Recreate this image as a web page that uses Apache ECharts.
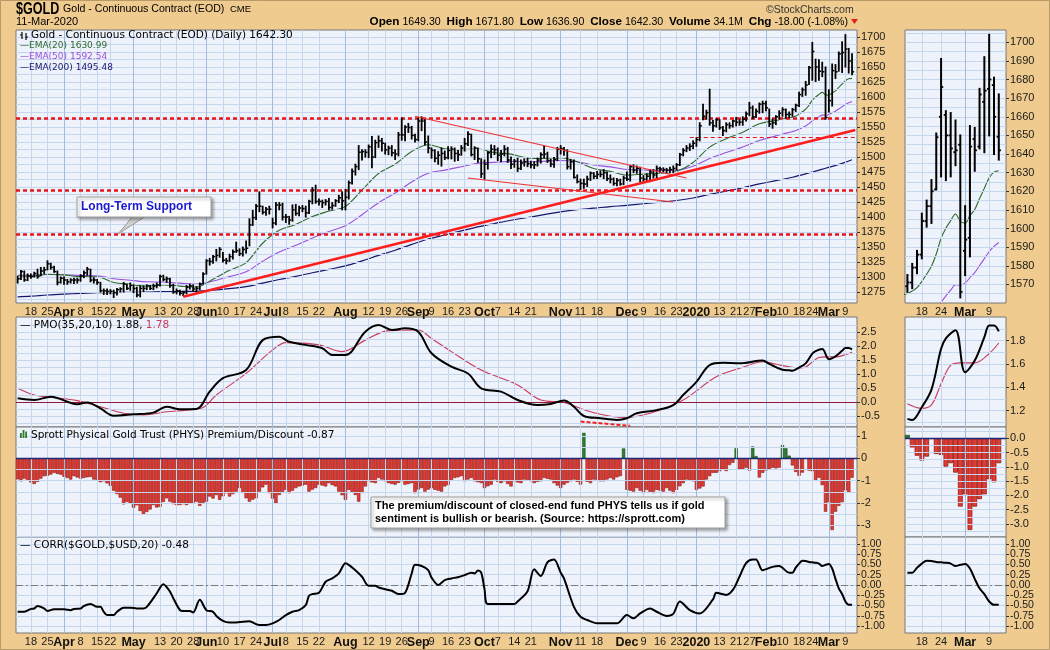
<!DOCTYPE html>
<html><head><meta charset="utf-8">
<script src="https://cdn.jsdelivr.net/npm/echarts@6/dist/echarts.min.js"></script>
<style>html,body{margin:0;padding:0;background:#EFCB8F;}#c{width:1050px;height:650px;}</style>
</head><body><div id="c"></div>
<script>
// ---------- calendar ----------
const holidays = ['2019-04-19','2019-05-27','2019-07-04','2019-09-02','2019-11-28','2019-12-25','2020-01-01','2020-01-20','2020-02-17'];
function tradingDays(){const out=[];let t=Date.UTC(2019,2,12);const end=Date.UTC(2020,2,11);
 while(t<=end){const d=new Date(t);const wd=d.getUTCDay();const s=d.toISOString().slice(0,10);
  if(wd!==0&&wd!==6&&holidays.indexOf(s)<0)out.push(s);t+=86400000;}return out;}
const dates = tradingDays();

// ---------- price data (daily) ----------
const closes = [1297,1309,1295,1302,1301,1306,1301,1310,1312,1322,1316,1309,1291,1298,
1295,1292,1295,1295,1295,1302,1307,1313,1295,1295,1291,1277,1277,1276,1276,1274,1279,1280,1288,1281,1286,
1281,1270,1281,1281,1285,1281,1285,1287,1301,1296,1297,1286,1275,1277,1273,1274,1283,1285,1280,1281,1288,1305,
1327,1326,1334,1336,1346,1328,1327,1334,1342,1344,1339,1346,1348,1387,1399,1418,1418,1408,1413,1413,
1390,1420,1420,1400,1400,1395,1412,1406,1415,1414,1407,1426,1445,1426,1426,1424,1426,1416,1419,1427,1432,1427,
1433,1457,1476,1484,1508,1509,1508,1517,1500,1524,1527,1523,1512,1515,1507,1505,1537,1537,1550,1549,1536,1529,
1560,1560,1525,1515,1511,1498,1503,1506,1499,1511,1513,1506,1504,1515,1522,1538,1504,1515,1497,1472,
1488,1507,1513,1512,1503,1505,1513,1495,1488,1493,1481,1490,1492,1489,1487,1487,1495,1504,1505,1494,1488,1496,1513,
1514,1511,1484,1492,1466,1459,1456,1455,1463,1473,1468,1471,1471,1474,1464,1463,1456,1461,1455,1465,
1463,1484,1478,1481,1465,1463,1468,1475,1470,1481,1480,1479,1478,1479,1481,1487,1504,1511,1515,1518,1523,
1529,1552,1568,1574,1557,1552,1562,1549,1544,1554,1552,1560,1558,1558,1563,1572,1582,1567,1576,1588,1589,
1582,1555,1557,1567,1573,1579,1571,1571,1579,1586,1604,1612,1620,1649,1676,1650,1643,1642,1566,1594,1644,1642,1672,1674,1680,1660,1642];
const highs = [1301,1311,1310,1305,1305,1308,1313,1316,1316,1327,1323,1318,1310,1300,
1300,1296,1297,1298,1298,1304,1310,1316,1313,1299,1296,1291,1280,1280,1279,1278,1281,1282,1291,1288,1290,
1287,1283,1285,1285,1287,1286,1288,1290,1303,1303,1300,1298,1288,1280,1278,1276,1286,1288,1287,1284,1290,1307,
1329,1331,1336,1346,1349,1341,1331,1338,1345,1358,1347,1350,1360,1397,1411,1421,1442,1418,1416,1418,
1398,1424,1424,1423,1404,1401,1420,1421,1418,1419,1418,1428,1449,1453,1430,1428,1429,1431,1424,1429,1436,1442,
1446,1460,1480,1488,1519,1512,1512,1520,1534,1528,1535,1531,1523,1518,1519,1512,1541,1565,1552,1556,1551,1538,
1565,1567,1562,1535,1515,1512,1509,1515,1510,1517,1517,1515,1511,1519,1531,1542,1538,1517,1515,1497,
1495,1509,1520,1519,1515,1511,1519,1516,1500,1496,1498,1495,1497,1498,1493,1492,1498,1507,1518,1508,1496,1499,1516,
1519,1516,1512,1496,1495,1470,1463,1463,1468,1475,1474,1476,1477,1479,1475,1470,1465,1464,1463,1468,
1475,1486,1487,1485,1483,1469,1472,1479,1479,1485,1483,1482,1481,1483,1485,1489,1506,1514,1519,1522,1527,
1532,1557,1588,1578,1613,1561,1564,1562,1551,1557,1557,1561,1566,1562,1567,1575,1591,1585,1580,1590,1593,
1593,1580,1563,1569,1577,1582,1580,1575,1581,1588,1608,1615,1626,1651,1691,1663,1662,1658,1650,1612,1655,1654,1675,1692,1704,1681,1672];
const lows = [1290,1296,1293,1294,1298,1300,1298,1302,1306,1312,1313,1308,1287,1290,
1288,1288,1290,1289,1290,1293,1299,1303,1292,1290,1288,1275,1271,1271,1272,1266,1270,1275,1275,1279,1278,
1274,1267,1267,1276,1279,1279,1279,1282,1285,1294,1291,1283,1273,1272,1270,1269,1272,1280,1276,1275,1279,1288,
1305,1320,1323,1327,1333,1325,1322,1326,1330,1341,1336,1335,1340,1352,1386,1396,1409,1405,1403,1405,
1382,1387,1412,1395,1391,1388,1393,1403,1402,1409,1400,1406,1422,1423,1420,1416,1420,1412,1413,1418,1424,1412,
1412,1430,1455,1470,1479,1495,1500,1499,1482,1499,1516,1510,1505,1504,1502,1496,1502,1528,1527,1541,1530,1525,
1527,1544,1520,1507,1498,1492,1488,1485,1496,1497,1497,1493,1494,1503,1510,1519,1502,1496,1491,1466,
1463,1480,1499,1504,1494,1492,1502,1491,1481,1483,1476,1479,1485,1484,1482,1481,1485,1490,1499,1491,1484,1483,1494,
1505,1503,1480,1480,1465,1457,1446,1448,1451,1461,1464,1464,1467,1464,1461,1457,1453,1452,1453,1454,
1461,1460,1474,1473,1459,1459,1461,1462,1465,1465,1474,1475,1474,1474,1474,1478,1486,1502,1509,1511,1514,
1518,1527,1562,1563,1553,1543,1550,1546,1536,1542,1548,1550,1552,1553,1553,1560,1569,1564,1566,1573,1574,
1577,1551,1548,1554,1563,1568,1565,1566,1568,1576,1584,1601,1603,1621,1628,1626,1628,1634,1563,1575,1585,1631,1643,1641,1650,1640,1637];
const recentStart = 233; // first bar of the right-hand zoom panel (2020-02-12)
const recentOpens = [1569,1571,1579,1586,1604,1612,1621,1660,1661,1650,1641,1645,1588,1595,1648,1644,1668,1675,1677,1649.3];

// ---------- moving averages [barIndex, value] ----------
const ema20Line = [[0,1302],[4,1301],[9,1304.5],[14,1303.5],[19,1300.6],[24,1300.4],[29,1290.8],[34,1287.7],[39,1284.7],[44,1286.8],[49,1284.9],[54,1283.3],[59,1296.2],[64,1311.1],[69,1324],[74,1356.3],[79,1377.8],[84,1387.7],[89,1400.8],[94,1409.9],[99,1417.8],[104,1445],[109,1472.5],[114,1488],[119,1509.2],[124,1520.5],[129,1513.6],[134,1512.2],[139,1513.3],[144,1507.3],[149,1504.8],[154,1498.6],[159,1497.6],[164,1498.9],[169,1492.2],[174,1480.8],[179,1476.1],[184,1469.8],[189,1471.5],[194,1472.9],[199,1476],[204,1490.9],[209,1516.5],[214,1530.4],[219,1541.2],[224,1555.3],[229,1561.1],[230,1562.2],[231,1563.8],[232,1564.5],[233,1565.1],[234,1566.4],[235,1568.2],[236,1571.6],[237,1575.4],[238,1579.7],[239,1586.3],[240,1594.8],[241,1600.1],[242,1604.2],[243,1607.8],[244,1603.8],[245,1602.9],[246,1606.9],[247,1610.2],[248,1616.1],[249,1621.6],[250,1627.2],[251,1630.3],[252,1631.0]];
const ema50Line = [[0,1303],[4,1303],[9,1304.3],[14,1303.9],[19,1302.5],[24,1302],[29,1297.2],[34,1294.6],[39,1292],[44,1291.6],[49,1289.8],[54,1288.3],[59,1293.3],[64,1300.7],[69,1308.6],[74,1326.2],[79,1341.6],[84,1352.8],[89,1365.1],[94,1375.7],[99,1385.5],[104,1403.8],[109,1423.9],[114,1439.9],[119,1458.4],[124,1472.8],[129,1478.2],[134,1483.9],[139,1489.5],[144,1491],[149,1492.8],[154,1492.1],[159,1492.8],[164,1494.3],[169,1492],[174,1486.7],[179,1483.5],[184,1479.3],[189,1478.3],[194,1477.7],[199,1478.3],[204,1484.7],[209,1497.5],[214,1507.4],[219,1516.6],[224,1527.5],[229,1535.2],[230,1536.7],[231,1538.4],[232,1539.7],[233,1540.9],[234,1542.4],[235,1544.1],[236,1546.4],[237,1549],[238,1551.8],[239,1555.6],[240,1560.3],[241,1563.8],[242,1566.9],[243,1569.8],[244,1569.7],[245,1570.7],[246,1573.6],[247,1576.3],[248,1580.1],[249,1583.8],[250,1587.6],[251,1590.4],[252,1592.5]];
const ema200Line = [[0,1267],[4,1268],[9,1270],[14,1271.5],[19,1272.7],[24,1274],[29,1274.1],[34,1274.5],[39,1274.8],[44,1275.6],[49,1276],[54,1276.2],[59,1278.1],[64,1280.8],[69,1283.9],[74,1289.9],[79,1295.9],[84,1301.2],[89,1307.1],[94,1312.8],[99,1318.5],[104,1326.8],[109,1336],[114,1344.6],[119,1354.3],[124,1363.3],[129,1370.1],[134,1376.9],[139,1383.6],[144,1389.2],[149,1394.6],[154,1399.2],[159,1403.9],[164,1408.6],[169,1412.2],[174,1414.7],[179,1417.4],[184,1419.4],[189,1422.1],[194,1424.7],[199,1427.5],[204,1431.7],[209,1437.7],[214,1443.2],[219,1448.8],[224,1455.1],[229,1460.7],[234,1466.3],[239,1473.5],[244,1481.3],[249,1489.3],[252,1495.5]];

// ---------- annotations ----------
const supportLevels = [1565, 1445, 1371];
const minorLevel = {from: 203, value: 1533};
const risingTrend = [[50,1267],[253,1545]];
const wedgeUpper = [[120,1568],[202,1465]];
const wedgeLower = [[136,1465],[198,1425]];
const pmoDivergence = [[170,-0.70],[185,-0.85]];

// ---------- PMO(35,20,10) ----------
const pmoLine = [[0,0.13],[5,0.07],[10,0.19],[18,-0.08],[21,-0.02],[25,-0.23],[29,-0.49],[35,-0.44],[41,-0.38],[45,-0.17],[49,-0.26],[54,-0.25],[58,0.37],[62,0.85],[69,1.14],[74,2.21],[79,2.33],[82,2.15],[87,2.04],[92,1.92],[95,1.68],[99,1.68],[105,2.51],[109,2.75],[113,2.57],[117,2.63],[121,2.51],[125,1.74],[131,1.26],[136,1.02],[140,0.49],[146,0.37],[151,0.07],[157,-0.11],[161,-0.07],[165,0.05],[168,-0.17],[171,-0.5],[176,-0.58],[181,-0.64],[184,-0.58],[187,-0.4],[193,-0.29],[198,-0.11],[201,0.25],[205,0.72],[209,1.32],[213,1.40],[218,1.38],[225,1.48],[227,1.36],[231,1.15],[233,1.13],[234,1.12],[236,1.23],[238,1.38],[240,1.73],[241,1.82],[243,1.89],[245,1.53],[247,1.63],[249,1.83],[250,1.93],[251,1.93],[252,1.88]];
const pmoSignal = [[0,0.49],[5,0.25],[10,0.17],[18,0.05],[25,-0.17],[32,-0.40],[38,-0.46],[45,-0.35],[51,-0.29],[56,-0.2],[60,0.25],[69,1.02],[77,1.86],[81,2.12],[91,2.04],[98,1.80],[105,2.21],[112,2.55],[121,2.57],[125,2.27],[131,1.80],[140,1.14],[151,0.61],[158,0.07],[165,-0.02],[173,-0.35],[183,-0.55],[191,-0.40],[201,0.07],[211,0.90],[219,1.24],[225,1.44],[229,1.35],[233,1.26],[236,1.22],[238,1.25],[240,1.43],[242,1.59],[244,1.61],[247,1.61],[250,1.69],[252,1.78]];

// ---------- PHYS premium/discount (daily) ----------
const physPremium = [-0.94,-1.03,-0.91,-1.00,-1.08,-1.15,-1.05,-0.91,-0.80,-0.78,-0.73,-0.65,-0.70,-0.73,-0.83,-0.88,-0.95,-0.80,-0.86,-0.91,
-0.88,-0.85,-0.83,-0.95,-1.00,-1.07,-1.03,-1.12,-1.23,-1.45,-1.60,-1.76,-2.06,-1.95,-2.02,-2.21,-2.10,-2.36,-2.51,-2.40,
-2.29,-2.09,-2.20,-2.17,-1.95,-1.79,-1.94,-2.05,-2.09,-2.09,-2.05,-2.09,-2.02,-2.00,-1.94,-2.13,-2.00,-1.94,-1.71,-1.80,
-1.64,-1.86,-1.70,-1.56,-1.71,-1.60,-1.49,-1.33,-1.55,-1.79,-1.94,-1.85,-1.79,-1.49,-1.30,-1.18,-1.56,-1.80,-2.02,-1.64,
-1.50,-1.41,-1.56,-1.45,-1.33,-1.26,-1.22,-1.18,-1.49,-1.40,-1.33,-1.18,-1.22,-1.26,-1.11,-1.20,-1.26,-1.49,-1.65,-1.86,
-1.41,-1.50,-1.64,-1.94,-1.55,-1.26,-1.03,-1.08,-1.11,-0.88,-0.95,-1.03,-1.11,-1.15,-1.18,-1.10,-1.03,-1.18,-1.15,-1.11,
-1.56,-1.40,-1.33,-1.49,-1.40,-1.33,-1.41,-1.45,-1.49,-1.26,-1.20,-1.00,-0.88,-0.85,-0.80,-1.03,-0.95,-0.88,-1.03,-1.07,
-1.11,-1.33,-1.25,-1.18,-0.95,-1.05,-1.11,-1.03,-1.15,-1.26,-1.03,-1.08,-1.11,-0.95,-1.00,-1.03,-1.11,-1.05,-1.03,-0.88,
-0.92,-0.95,-1.11,-1.22,-1.33,-1.18,-1.10,-1.03,-0.95,-1.05,-1.18,1.14,-1.05,-1.11,-0.95,-1.00,-1.03,-1.03,-0.95,-0.88,
-0.95,-0.85,-0.80,0.44,-1.41,-1.45,-1.49,-1.33,-1.45,-1.56,-1.41,-1.50,-1.56,-1.41,-1.45,-1.49,-1.33,-1.45,-1.56,-1.41,
-1.25,-1.11,-0.95,-1.00,-1.03,-1.41,-1.35,-1.26,-0.95,-0.80,-0.65,-0.65,-0.58,-0.50,-0.57,-0.30,-0.20,0.45,-0.50,-0.50,
-0.42,-0.55,0.53,0.10,-0.86,-0.65,-0.55,-0.50,-0.42,-0.45,-0.42,0.59,0.45,0.12,-0.32,-0.61,-0.78,-0.64,-0.02,-0.55,
-0.58,-0.99,-0.87,-1.20,-2.39,-1.96,-3.21,-2.39,-2.13,-1.96,-1.43,-1.54,-0.87];

// ---------- CORR($GOLD,$USD,20) ----------
const corrLine = [[0,-0.65],[2,-0.65],[4,-0.58],[5,-0.57],[6,-0.51],[8,-0.57],[9,-0.63],[11,-0.59],[14,-0.59],[16,-0.61],[17,-0.58],[19,-0.57],[20,-0.51],[22,-0.46],[24,-0.53],[25,-0.53],[26,-0.65],[27,-0.73],[29,-0.73],[30,-0.65],[32,-0.55],[34,-0.55],[36,-0.57],[38,-0.57],[39,-0.53],[41,-0.32],[42,-0.2],[44,0.02],[46,-0.16],[47,-0.32],[49,-0.61],[50,-0.63],[52,-0.63],[53,-0.67],[55,-0.36],[57,-0.61],[59,-0.65],[60,-0.75],[62,-0.87],[64,-0.91],[66,-0.91],[68,-0.89],[70,-0.88],[72,-0.95],[73,-0.97],[75,-0.97],[77,-0.93],[79,-0.85],[81,-0.73],[83,-0.65],[85,-0.61],[87,-0.49],[88,-0.26],[89,-0.22],[91,-0.19],[93,0.08],[95,0.16],[97,0.28],[99,0.53],[100,0.49],[102,0.36],[104,0.2],[106,-0.02],[108,-0.02],[109,-0.06],[112,-0.12],[113,-0.14],[115,-0.22],[117,-0.19],[119,0.28],[120,0.49],[122,0.46],[124,0.36],[125,0.18],[127,0.0],[129,0.12],[131,0.16],[133,0.19],[135,0.24],[137,0.30],[138,0.28],[139,0.35],[140,0.30],[141,-0.1],[142,-0.46],[150,-0.46],[151,-0.40],[154,-0.15],[156,0.38],[158,0.22],[160,0.55],[162,0.62],[164,0.30],[165,0.16],[168,-0.53],[170,-0.77],[172,-0.85],[175,-0.93],[181,-0.93],[184,-0.73],[186,-0.81],[188,-0.69],[191,-0.57],[193,-0.65],[196,-0.75],[198,-0.70],[200,-0.40],[203,-0.61],[206,-0.69],[210,-0.35],[211,-0.19],[214,-0.24],[216,-0.12],[218,0.2],[220,0.53],[222,0.62],[223,0.62],[225,0.36],[228,0.44],[230,0.46],[233,0.30],[234,0.30],[235,0.42],[236,0.52],[237,0.59],[238,0.58],[239,0.56],[240,0.55],[241,0.54],[242,0.52],[243,0.46],[244,0.49],[245,0.51],[246,0.40],[247,0.15],[248,-0.08],[249,-0.22],[250,-0.40],[251,-0.48],[252,-0.48]];

// ---------- tick labels ----------
const xTickLabels = [['2019-03-18','18'],['2019-03-25','25'],['2019-04-01','Apr'],['2019-04-08','8'],['2019-04-15','15'],['2019-04-22','22'],['2019-05-01','May'],['2019-05-13','13'],['2019-05-20','20'],['2019-05-28','28'],['2019-06-03','Jun'],['2019-06-10','10'],['2019-06-17','17'],['2019-06-24','24'],['2019-07-01','Jul'],['2019-07-08','8'],['2019-07-15','15'],['2019-07-22','22'],['2019-08-01','Aug'],['2019-08-12','12'],['2019-08-19','19'],['2019-08-26','26'],['2019-09-03','Sep'],['2019-09-09','9'],['2019-09-16','16'],['2019-09-23','23'],['2019-10-01','Oct'],['2019-10-07','7'],['2019-10-14','14'],['2019-10-21','21'],['2019-11-01','Nov'],['2019-11-11','11'],['2019-11-18','18'],['2019-12-02','Dec'],['2019-12-09','9'],['2019-12-16','16'],['2019-12-23','23'],['2020-01-02','2020'],['2020-01-13','13'],['2020-01-21','21'],['2020-01-27','27'],['2020-02-03','Feb'],['2020-02-10','10'],['2020-02-18','18'],['2020-02-24','24'],['2020-03-02','Mar'],['2020-03-09','9']];
const boldTicks = ['Apr','May','Jun','Jul','Aug','Sep','Oct','Nov','Dec','2020','Feb','Mar'];
const priceTicks = [1275,1300,1325,1350,1375,1400,1425,1450,1475,1500,1525,1550,1575,1600,1625,1650,1675,1700];
const priceTicksRecent = [1570,1580,1590,1600,1610,1620,1630,1640,1650,1660,1670,1680,1690,1700];
const pmoTicks = [-0.5,0,0.5,1,1.5,2,2.5];
const pmoTicksRecent = [1.2,1.4,1.6,1.8];
const physTicks = [-3,-2,-1,0,1];
const physTicksRecent = [-3,-2.5,-2,-1.5,-1,-0.5,0];
const corrTicks = [-1,-0.75,-0.5,-0.25,0,0.25,0.5,0.75,1];
const corrTicksEven = [-1,-0.5,0,0.5,1];
const corrTicksOdd = [-0.75,-0.25,0.25,0.75];
// horizontal grid-line levels (labels plus half steps)
const priceGrid = [1262.5,1275,1287.5,1300,1312.5,1325,1337.5,1350,1362.5,1375,1387.5,1400,1412.5,1425,1437.5,1450,1462.5,1475,1487.5,1500,1512.5,1525,1537.5,1550,1562.5,1575,1587.5,1600,1612.5,1625,1637.5,1650,1662.5,1675,1687.5,1700];
const priceGridRecent = [1565,1570,1575,1580,1585,1590,1595,1600,1605,1610,1615,1620,1625,1630,1635,1640,1645,1650,1655,1660,1665,1670,1675,1680,1685,1690,1695,1700,1705];
const pmoGrid = [-0.75,-0.5,-0.25,0,0.25,0.5,0.75,1,1.25,1.5,1.75,2,2.25,2.5,2.75];
const pmoGridRecent = [1.1,1.2,1.3,1.4,1.5,1.6,1.7,1.8,1.9];
const physGrid = [-3.5,-3,-2.5,-2,-1.5,-1,-0.5,0,0.5,1];
const physGridRecent = [-3.25,-3,-2.75,-2.5,-2.25,-2,-1.75,-1.5,-1.25,-1,-0.75,-0.5,-0.25,0,0.25];

// ================= build =================
const FONT = "'Liberation Sans', Arial, sans-serif";
const VFONT = "'DejaVu Sans', Verdana, sans-serif";
const leftCats = dates.concat(['']);
const rightCats = dates.slice(recentStart).concat(['']);
const labelMap = new Map(xTickLabels);
const GRID_C = '#C6D6EC', MONTH_C = '#9FBBDD';

const L = {x:16, w:841, x2:905, w2:101};
const rows = [{top:30,h:273},{top:317,h:110},{top:427,h:110},{top:537,h:96}];
const grids = [];
rows.forEach(r=>{
  grids.push({left:L.x, top:r.top, width:L.w, height:r.h, show:true, backgroundColor:'#EEF2FA', borderColor:'#777', borderWidth:1, containLabel:false});
  grids.push({left:L.x2, top:r.top, width:L.w2, height:r.h, show:true, backgroundColor:'#EEF2FA', borderColor:'#777', borderWidth:1, containLabel:false});
});

function xLabelCfg(show){
  return {show:show, interval:(i,v)=>labelMap.has(v), margin:3, fontSize:11, color:'#1a1a1a', fontFamily:FONT,
    formatter:v=>{const t=labelMap.get(v)||''; return boldTicks.indexOf(t)>=0?'{b|'+t+'}':t;},
    rich:{b:{fontWeight:'bold', fontSize:12.5, fontFamily:FONT, color:'#111'}}};
}
const xAxes = [];
for(let k=0;k<8;k++){
  const right = k%2===1;
  const showLbl = (k===0||k===1||k===6||k===7);
  xAxes.push({type:'category', gridIndex:k, data: right?rightCats:leftCats, boundaryGap:true,
    axisLine:{show:false}, axisTick:{show:false}, splitLine:{show:false}, axisLabel:xLabelCfg(showLbl)});
}
function yAx(k,min,max,ticks,fmt,compact){
  return {type:'value', gridIndex:k, min:min, max:max, position:'right', offset:0, scale:true,
    axisLine:{show:false}, splitLine:{show:false},
    axisTick:{show:true, customValues:ticks, length:3, lineStyle:{color:'#333'}},
    axisLabel:Object.assign({customValues:ticks, formatter:fmt, margin:4, fontSize:11, color:'#1a1a1a', fontFamily:FONT,
      showMinLabel:true, showMaxLabel:true, hideOverlap:false}, compact?{fontSize:10.5}:{})};
}
const corrFmt = v=>v.toFixed(2);
const yAxes = [
  yAx(0,1256.7,1711.7,priceTicks,v=>String(v)),
  yAx(1,1560,1706.6,priceTicksRecent,v=>String(v)),
  yAx(2,-0.893,3.036,pmoTicks,v=>v.toFixed(1)),
  yAx(3,1.06,2.003,pmoTicksRecent,v=>v.toFixed(1)),
  yAx(4,-3.52,1.40,physTicks,v=>String(v)),
  yAx(5,-3.455,0.396,physTicksRecent,v=>v.toFixed(1)),
  yAx(6,-1.165,1.165,corrTicksEven,corrFmt,true),
  yAx(7,-1.165,1.165,corrTicksEven,corrFmt,true),
  yAx(6,-1.165,1.165,corrTicksOdd,corrFmt,true),   // 8: in-between CORR labels (left)
  yAx(7,-1.165,1.165,corrTicksOdd,corrFmt,true)    // 9: in-between CORR labels (right)
];

// grid-line helper series (horizontal at grid levels, vertical at labelled dates)
function gridLines(k, levels, right){
  const cats = right?rightCats:leftCats;
  const d = [];
  levels.forEach(v=>d.push({yAxis:v, lineStyle:{color:GRID_C, width:1, type:'solid'}}));
  cats.forEach((c,i)=>{ if(labelMap.has(c)){ const t=labelMap.get(c); const isM=boldTicks.indexOf(t)>=0;
     d.push({xAxis:i, lineStyle:{color:isM?MONTH_C:GRID_C, width:1, type:'solid'}}); }});
  return {type:'line', xAxisIndex:k, yAxisIndex:k, data:[], z:1, silent:true, animation:false,
    markLine:{silent:true, symbol:['none','none'], label:{show:false}, animation:false, data:d}};
}
const series = [];
const levelSets = [priceGrid, priceGridRecent, pmoGrid, pmoGridRecent, physGrid, physGridRecent, corrTicks, corrTicks];
for(let k=0;k<8;k++) series.push(gridLines(k, levelSets[k], k%2===1));
// keep the extra CORR label axes bound to (empty) series
series.push({type:'line', xAxisIndex:6, yAxisIndex:8, data:[], silent:true});
series.push({type:'line', xAxisIndex:7, yAxisIndex:9, data:[], silent:true});

// ----- main price panel -----
const mainData = closes.map((c,i)=>[i, highs[i], lows[i], c]);
series.push({type:'custom', xAxisIndex:0, yAxisIndex:0, z:5, animation:false, encode:{x:0, y:[1,2,3]}, data:mainData,
  renderItem:(p,api)=>{const x=api.value(0);const ph=api.coord([x,api.value(1)]),pl=api.coord([x,api.value(2)]),pc=api.coord([x,api.value(3)]);
    const bw=api.size([1,0])[0];
    return {type:'group', children:[
      {type:'line', shape:{x1:ph[0],y1:ph[1]-0.5,x2:pl[0],y2:pl[1]+0.5}, style:{stroke:'#000',lineWidth:1.8}},
      {type:'line', shape:{x1:pc[0],y1:pc[1],x2:pc[0]+bw*0.65,y2:pc[1]}, style:{stroke:'#000',lineWidth:1.5}}]};}
});
function lineS(k, data, color, width, z, extra){
  return Object.assign({type:'line', xAxisIndex:k, yAxisIndex:k, data:data, showSymbol:false, symbol:'none', smooth:0.35,
    lineStyle:{color:color, width:width}, z:z||3, animation:false, silent:true}, extra||{});
}
series.push(lineS(0, ema200Line, '#16166E', 1.2, 3));
series.push(lineS(0, ema50Line, '#9A4FE0', 1.1, 3));
series.push(lineS(0, ema20Line, '#2E6B2E', 1.1, 3));
series.push(lineS(0, risingTrend, '#FF1E1E', 2.6, 6, {smooth:false}));
series.push(lineS(0, wedgeUpper, '#F03030', 1.1, 6, {smooth:false}));
series.push(lineS(0, wedgeLower, '#F03030', 1.1, 6, {smooth:false}));
series.push({type:'line', xAxisIndex:0, yAxisIndex:0, data:[], z:6, silent:true, animation:false,
  markLine:{silent:true, symbol:['none','none'], label:{show:false}, animation:false,
    data: supportLevels.map(v=>({yAxis:v, lineStyle:{color:'#E8141B', width:2.6, type:[4,3]}}))
      .concat([[{coord:[minorLevel.from, minorLevel.value], lineStyle:{color:'#E8141B', width:1, type:[4,3]}},{coord:[leftCats.length-1, minorLevel.value]}]])}});

// ----- recent price panel -----
const recentData = [];
for(let i=recentStart;i<closes.length;i++) recentData.push([i-recentStart, recentOpens[i-recentStart], highs[i], lows[i], closes[i]]);
series.push({type:'custom', xAxisIndex:1, yAxisIndex:1, z:5, animation:false, encode:{x:0, y:[1,2,3,4]}, data:recentData,
  renderItem:(p,api)=>{const x=api.value(0);const po=api.coord([x,api.value(1)]),ph=api.coord([x,api.value(2)]),pl=api.coord([x,api.value(3)]),pc=api.coord([x,api.value(4)]);
    const bw=api.size([1,0])[0];
    return {type:'group', children:[
      {type:'line', shape:{x1:ph[0],y1:ph[1]-1,x2:pl[0],y2:pl[1]+1}, style:{stroke:'#000',lineWidth:2}},
      {type:'line', shape:{x1:po[0]-bw*0.45,y1:po[1],x2:po[0],y2:po[1]}, style:{stroke:'#000',lineWidth:1.8}},
      {type:'line', shape:{x1:pc[0],y1:pc[1],x2:pc[0]+bw*0.45,y2:pc[1]}, style:{stroke:'#000',lineWidth:1.8}}]};}
});
const shiftR = arr => arr.filter(p=>p[0]>=recentStart-1).map(p=>[p[0]-recentStart, p[1]]);
series.push(lineS(1, shiftR(ema50Line), '#9A4FE0', 1.1, 3));
series.push(lineS(1, shiftR(ema20Line), '#2E6B2E', 1.1, 3));

// ----- PMO -----
series.push(lineS(2, pmoSignal, '#C83A5E', 1.1, 4));
series.push(lineS(2, pmoLine, '#000', 2, 5));
series.push(lineS(2, pmoDivergence, '#F02020', 2, 6, {smooth:false, lineStyle:{color:'#F02020', width:2, type:[4,2]}}));
series.push({type:'line', xAxisIndex:2, yAxisIndex:2, data:[], z:3, silent:true, animation:false,
  markLine:{silent:true, symbol:['none','none'], label:{show:false}, animation:false, data:[{yAxis:0, lineStyle:{color:'#8E1B3C', width:1.2, type:'solid'}}]}});
series.push(lineS(3, shiftR(pmoSignal), '#C83A5E', 1.1, 4));
series.push(lineS(3, shiftR(pmoLine), '#000', 2, 5));

// ----- PHYS -----
const physColor = v => v>=0 ? '#2F7D32' : '#E53B33';
series.push({type:'bar', xAxisIndex:4, yAxisIndex:4, z:4, animation:false, silent:true, barCategoryGap:'0%', barGap:'0%',
  data: physPremium.map(v=>({value:v, itemStyle:{color:physColor(v), borderColor: v>=0?'#1B4D1E':'#8A1A16', borderWidth:0.6}})),
  markLine:{silent:true, symbol:['none','none'], label:{show:false}, animation:false, data:[{yAxis:0, lineStyle:{color:'#1F2A78', width:1.3, type:'solid'}}]}});
series.push({type:'bar', xAxisIndex:5, yAxisIndex:5, z:4, animation:false, silent:true, barCategoryGap:'0%', barGap:'0%',
  data: physPremium.slice(recentStart).map(v=>({value:v, itemStyle:{color:physColor(v), borderColor: v>=0?'#1B4D1E':'#8A1A16', borderWidth:0.8}})),
  markLine:{silent:true, symbol:['none','none'], label:{show:false}, animation:false, data:[{yAxis:0, lineStyle:{color:'#1F2A78', width:1.3, type:'solid'}}]}});

// ----- CORR -----
const zeroDash = {silent:true, symbol:['none','none'], label:{show:false}, animation:false, data:[{yAxis:0, lineStyle:{color:'#7A7A7A', width:1, type:[7,3,2,3]}}]};
series.push(lineS(6, corrLine, '#000', 2, 5, {smooth:0.3, markLine:zeroDash}));
series.push(lineS(7, shiftR(corrLine), '#000', 2, 5, {smooth:0.3, markLine:zeroDash}));

// ----- texts / graphics -----
const T = (x,y,text,font,fill,extra)=>Object.assign({type:'text', x:x, y:y, z:50, silent:true, style:Object.assign({text:text, font:font, fill:fill||'#000', verticalAlign:'middle'}, (extra&&extra.style)||{})}, extra&&extra.el||{});
const graphic = [
  {type:'rect', z:40, silent:true, shape:{x:0.5,y:0.5,width:1049,height:649}, style:{fill:'none', stroke:'#B89A66', lineWidth:1}},
  T(16,9,'$GOLD',"bold 17px "+FONT,'#000',{el:{scaleX:0.74}}),
  T(63,9,'Gold - Continuous Contract (EOD)',"10.6px "+FONT,'#000'),
  T(230,9,'CME',"9.5px "+FONT,'#000'),
  T(16,22,'11-Mar-2020',"11px "+FONT,'#000'),
  T(766,10,'\u00A9StockCharts.com',"10.5px "+FONT,'#333'),
  {type:'text', x:848, y:22, z:50, silent:true, style:{text:'{b|Open} 1649.30  {b|High} 1671.80  {b|Low} 1636.90  {b|Close} 1642.30  {b|Volume} 34.1M  {b|Chg} -18.00 (-1.08%)',
    font:"10.6px "+FONT, fill:'#000', align:'right', verticalAlign:'middle', rich:{b:{font:"bold 11.7px "+FONT, fill:'#000'}}}},
  {type:'polygon', z:50, silent:true, shape:{points:[[851,19],[858,19],[854.5,24]]}, style:{fill:'#E02020'}},
  // main legend
  {type:'line', z:50, silent:true, shape:{x1:22,y1:32,x2:22,y2:39}, style:{stroke:'#000',lineWidth:1.2}},
  {type:'line', z:50, silent:true, shape:{x1:26,y1:33,x2:26,y2:40}, style:{stroke:'#000',lineWidth:1.2}},
  {type:'line', z:50, silent:true, shape:{x1:20,y1:35,x2:22,y2:35}, style:{stroke:'#000',lineWidth:1}},
  {type:'line', z:50, silent:true, shape:{x1:26,y1:37,x2:28,y2:37}, style:{stroke:'#000',lineWidth:1}},
  T(31,35,'Gold - Continuous Contract (EOD) (Daily) 1642.30',"10.5px "+VFONT,'#000'),
  T(20,46,'\u2014EMA(20) 1630.99',"9px "+VFONT,'#2E6B2E'),
  T(20,57,'\u2014EMA(50) 1592.54',"9px "+VFONT,'#9A4FE0'),
  T(20,68,'\u2014EMA(200) 1495.48',"9px "+VFONT,'#16166E'),
  // PMO legend
  {type:'text', x:20, y:325, z:50, silent:true, style:{text:'\u2014 PMO(35,20,10) 1.88, {r|1.78}', font:"10.5px "+VFONT, fill:'#000', verticalAlign:'middle', rich:{r:{font:"10.5px "+VFONT, fill:'#C83A5E'}}}},
  // PHYS legend
  {type:'rect', z:50, silent:true, shape:{x:20,y:433,width:1.8,height:5}, style:{fill:'#2F7D32'}},
  {type:'rect', z:50, silent:true, shape:{x:22.6,y:430,width:1.8,height:8}, style:{fill:'#2F7D32'}},
  {type:'rect', z:50, silent:true, shape:{x:25.2,y:431.5,width:1.8,height:6.5}, style:{fill:'#2F7D32'}},
  T(31,435,'Sprott Physical Gold Trust (PHYS) Premium/Discount -0.87',"10.5px "+VFONT,'#000'),
  // CORR legend
  T(20,545,'\u2014 CORR($GOLD,$USD,20) -0.48',"10.5px "+VFONT,'#000'),
  // Long-Term Support callout
  {type:'polygon', z:60, silent:true, shape:{points:[[133,216],[146,216],[118,234]]}, style:{fill:'#D0D0D0', stroke:'#9A9A9A', lineWidth:1}},
  {type:'rect', z:61, silent:true, shape:{x:77,y:197,width:134,height:20}, style:{fill:'#fff', stroke:'#A0A0A0', lineWidth:1, shadowBlur:3, shadowOffsetX:2, shadowOffsetY:2, shadowColor:'rgba(0,0,0,0.35)'}},
  T(81,207,'Long-Term Support',"bold 12px "+FONT,'#1A1ACF',{el:{z:62}}),
  // PHYS note
  {type:'rect', z:61, silent:true, shape:{x:371,y:497,width:354,height:31}, style:{fill:'#fff', stroke:'#A0A0A0', lineWidth:1, shadowBlur:3, shadowOffsetX:2, shadowOffsetY:2, shadowColor:'rgba(0,0,0,0.35)'}},
  T(375,506,'The premium/discount of closed-end fund PHYS tells us if gold',"bold 11px "+FONT,'#000',{el:{z:62}}),
  T(375,519,'sentiment is bullish or bearish. (Source: https://sprott.com)',"bold 11px "+FONT,'#000',{el:{z:62}})
];

const chart = echarts.init(document.getElementById('c'), null, {renderer:'canvas'});
chart.setOption({backgroundColor:'#EFCB8F', animation:false, grid:grids, xAxis:xAxes, yAxis:yAxes, series:series, graphic:graphic});
</script></body></html>
